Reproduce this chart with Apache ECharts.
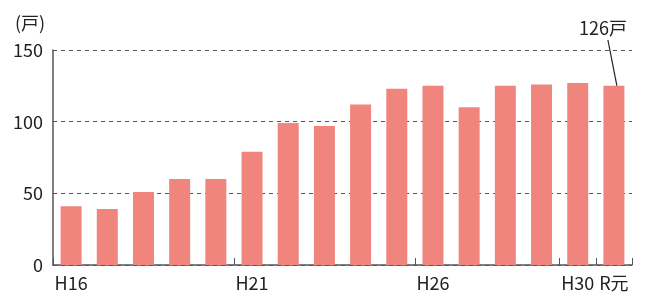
<!DOCTYPE html>
<html>
<head>
<meta charset="utf-8">
<script src="https://cdn.jsdelivr.net/npm/echarts@6/dist/echarts.min.js"></script>
<style>html,body{margin:0;padding:0;background:#fff;}#c{width:648px;height:298px;}</style>
</head>
<body>
<div id="c"></div>
<script>
const categories = ['H16','H17','H18','H19','H20','H21','H22','H23','H24','H25','H26','H27','H28','H29','H30','R元'];
const households = [41, 39, 51, 60, 60, 79, 99, 97, 112, 123, 125, 110, 125, 126, 127, 125];
const shownLabels = ['H16','H21','H26','H30','R元'];
const yTicks = [0, 50, 100, 150];
const unitLabel = '(戸)';
const annotationText = '126戸';

const FONT = '"Noto Sans CJK JP", "Noto Sans", sans-serif';
const chart = echarts.init(document.getElementById('c'), null, {renderer: 'canvas'});
const lastIdx = households.length - 1;

const seriesData = households.map((v, i) => {
  if (i === lastIdx) {
    return {
      value: v,
      label: {
        show: true,
        position: 'top',
        formatter: annotationText,
        fontFamily: FONT,
        fontSize: 18,
        color: '#222'
      }
    };
  }
  return v;
});

chart.setOption({
  animation: false,
  grid: { left: 53, right: 16, top: 50, bottom: 33, containLabel: false },
  xAxis: {
    type: 'category',
    data: categories,
    axisLine: { lineStyle: { color: '#555', width: 1.5 } },
    axisTick: { show: true, inside: true, length: 7, lineStyle: { color: '#555' } },
    axisLabel: {
      interval: (i, v) => shownLabels.includes(v),
      fontFamily: FONT, fontSize: 18, color: '#222', margin: 9
    }
  },
  yAxis: {
    type: 'value',
    min: yTicks[0], max: yTicks[yTicks.length - 1], interval: 50,
    axisLine: { show: true, lineStyle: { color: '#555', width: 1.5 } },
    axisTick: { show: false },
    axisLabel: { fontFamily: FONT, fontSize: 18, color: '#222', margin: 10 },
    splitLine: { show: true, lineStyle: { color: '#555', type: [4, 4], width: 1 } }
  },
  graphic: [{
    type: 'text', left: 15, top: 14,
    style: { text: unitLabel, font: '18px ' + FONT, fill: '#222' }
  }],
  series: [{
    type: 'bar',
    data: seriesData,
    barWidth: '58%',
    itemStyle: { color: '#F0857E' },
    labelLayout: (params) => params.dataIndex === lastIdx
      ? { x: 603, y: 28, align: 'center', verticalAlign: 'middle' }
      : {}
  }]
});

// leader line from the annotation text to the top of the last bar
const end = chart.convertToPixel({ seriesIndex: 0 }, [lastIdx, households[lastIdx]]);
chart.setOption({
  graphic: [{
    type: 'text', left: 15, top: 14,
    style: { text: unitLabel, font: '18px ' + FONT, fill: '#222' }
  }, {
    type: 'line',
    shape: { x1: end[0] - 6, y1: 40, x2: end[0] + 3, y2: end[1] },
    style: { stroke: '#222', lineWidth: 1.2 }
  }]
});
</script>
</body>
</html>
